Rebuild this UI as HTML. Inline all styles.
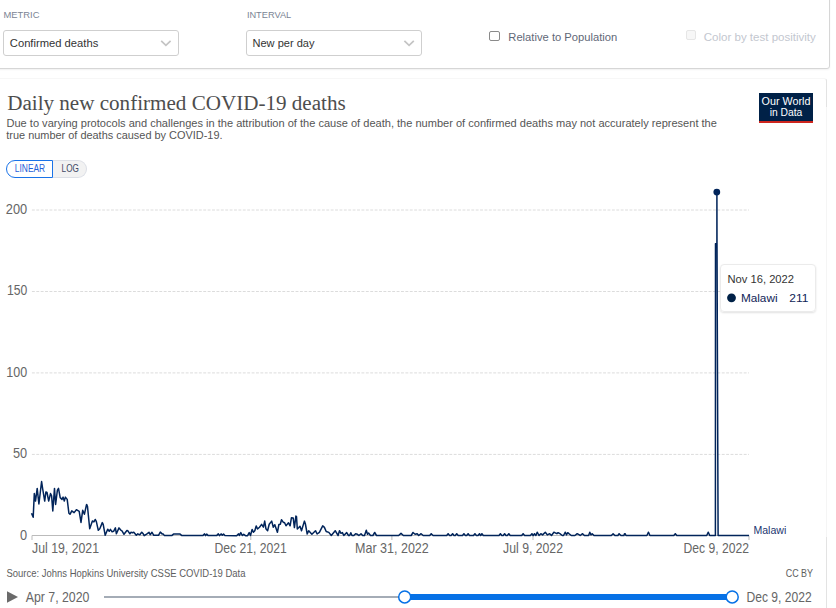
<!DOCTYPE html>
<html><head><meta charset="utf-8">
<style>
*{box-sizing:border-box;margin:0;padding:0}
html,body{width:836px;height:608px;overflow:hidden;background:#fff}
body{position:relative;font-family:"Liberation Sans",Arial,sans-serif;color:#333}
.abs{position:absolute;white-space:nowrap}
.panel1{position:absolute;left:-10px;top:-10px;width:840px;height:79px;border:1px solid #d6d6d6;border-radius:3px;box-shadow:0 1px 2px rgba(0,0,0,.06);background:#fff}
.panel2{position:absolute;left:-10px;top:78px;width:837px;height:560px;border:1px solid #e3e3e3;border-top-color:#f7f7f7;border-radius:3px;background:#fff}
.sel{position:absolute;top:30px;height:26px;border:1px solid #cfcfcf;border-radius:3px;background:#fff}
.cb{position:absolute;width:10.5px;height:10px;border:1.3px solid #8a8a8a;border-radius:2px;background:#fff}
svg text{white-space:pre}
</style></head><body>
<div class="panel1"></div>
<div class="sel" style="left:3.2px;width:175.5px"></div>
<div class="sel" style="left:246.4px;width:175.5px"></div>
<div class="cb" style="left:489.2px;top:30.5px"></div>
<div class="cb" style="left:685.5px;top:30.2px;border-color:#e6e6e6;background:#f7f7f7"></div>
<div class="panel2"></div>
<div class="abs" style="left:826px;top:107px;width:1px;height:430px;background:#f5f5f5"></div>
<div class="abs" style="left:759px;top:93px;width:54px;height:30px;background:#002147;border-bottom:2.5px solid #ce261e"></div>
<div class="abs" style="left:6px;top:160px;width:47px;height:17.5px;border:1.3px solid #1a73e8;border-radius:9px 0 0 9px;background:#fff"></div>
<div class="abs" style="left:52.6px;top:160px;width:34px;height:17.5px;border:1px solid #dcdfe6;border-left:none;border-radius:0 9px 9px 0;background:#f2f2f2"></div>
<div class="abs" style="left:720.2px;top:264.4px;width:95.5px;height:48px;background:rgba(255,255,255,.93);border:1px solid #ebebeb;border-radius:4px;box-shadow:0 1px 2px rgba(0,0,0,.12);z-index:2"></div>

<svg class="abs" style="left:0;top:0;z-index:3" width="836" height="608" viewBox="0 0 836 608">
<g fill="none" stroke="#c4c4c4" stroke-width="1.7">
<path d="M161.2 40.9 L165.9 45.4 L170.6 40.9"/>
<path d="M404.4 40.9 L409.1 45.4 L413.8 40.9"/>
</g>
</svg>

<svg class="abs" style="left:0;top:0;z-index:1" width="836" height="608" viewBox="0 0 836 608">
<g stroke="#dcdcdc" stroke-width="1" stroke-dasharray="2.9,1.494">
<line x1="31.9" y1="210" x2="749" y2="210"/>
<line x1="31.9" y1="291.5" x2="749" y2="291.5"/>
<line x1="31.9" y1="372.9" x2="749" y2="372.9"/>
<line x1="31.9" y1="454.4" x2="749" y2="454.4"/>
</g>
<line x1="32" y1="535.5" x2="749" y2="535.5" stroke="#bbb" stroke-width="1"/>
<g stroke="#bbb" stroke-width="1">
<line x1="32" y1="535.5" x2="32" y2="540"/>
<line x1="250.8" y1="535.5" x2="250.8" y2="540"/>
<line x1="391.9" y1="535.5" x2="391.9" y2="540"/>
<line x1="533" y1="535.5" x2="533" y2="540"/>
<line x1="749" y1="535.5" x2="749" y2="540"/>
</g>
<path d="M31.5,513.2 L33.2,517.2 L34.3,493.6 L35.5,501.1 L37.2,488.4 L38.9,504.0 L41.6,481.5 L42.7,489.0 L44.7,501.1 L45.9,491.9 L47.0,492.5 L48.7,501.1 L50.5,493.6 L51.6,495.9 L52.8,510.9 L54.5,488.4 L55.6,504.5 L57.4,490.1 L58.5,488.4 L60.2,497.6 L62.0,499.4 L63.1,497.1 L64.3,501.1 L65.4,497.1 L67.2,499.4 L68.9,513.2 L70.0,514.3 L71.8,510.9 L74.1,512.6 L76.4,509.7 L79.2,511.4 L81.0,522.4 L82.7,510.3 L84.4,514.3 L86.5,504.7 L86.7,504.5 L87.5,506.6 L89.7,528.8 L92.4,521.0 L93.9,521.9 L95.3,519.5 L96.3,521.4 L98.3,530.3 L99.8,528.8 L102.3,522.6 L103.2,524.4 L105.2,535.3 L107.7,529.3 L109.2,531.3 L110.4,529.3 L112.1,531.8 L113.6,531.3 L115.4,527.9 L116.4,533.8 L119.0,527.9 L121.0,530.3 L122.0,530.8 L124.0,534.3 L126.9,530.5 L127.9,530.8 L129.9,533.8 L130.9,532.3 L132.4,532.8 L133.8,532.3 L136.3,535.3 L137.8,533.8 L139.8,534.8 L141.7,532.3 L141.8,532.3 L143.2,533.8 L144.2,535.7 L146.6,534.1 L149.0,532.3 L150.2,534.7 L152.0,532.3 L153.8,535.3 L158.5,535.3 L160.3,532.1 L162.1,533.9 L163.3,534.1 L164.5,535.6 L171.7,535.6 L173.5,534.1 L180.1,534.1 L181.9,535.6 L202.8,535.6 L204.6,533.9 L205.6,535.6 L206.7,534.1 L208.2,535.6 L216.6,535.6 L218.3,533.9 L219.5,535.6 L221.1,533.9 L222.3,535.3 L223.5,534.1 L224.9,535.6 L236.5,535.7 L236.9,535.6 L237.9,534.4 L238.7,533.9 L239.4,535.5 L240.8,532.6 L242.3,535.5 L243.7,534.3 L245.5,535.7 L247.6,535.7 L249.2,532.6 L250.5,535.5 L252.1,529.4 L253.4,532.3 L254.8,530.8 L256.2,525.9 L257.5,529.0 L259.5,527.2 L261.6,524.4 L263.4,527.2 L264.7,521.1 L265.9,528.7 L267.6,530.7 L269.2,524.2 L271.7,521.1 L273.3,527.2 L274.8,524.7 L277.4,532.3 L278.9,524.5 L280.3,524.2 L281.5,519.7 L283.2,522.2 L284.6,522.8 L286.0,525.8 L288.5,522.8 L290.1,525.8 L291.4,517.8 L293.2,517.9 L294.4,527.6 L295.9,516.1 L296.5,516.5 L297.3,529.0 L298.6,527.8 L300.0,526.2 L301.5,530.7 L304.4,521.1 L305.4,524.0 L307.2,534.0 L308.7,530.7 L311.9,534.3 L315.5,530.7 L317.1,534.0 L319.4,532.3 L322.7,525.8 L324.4,527.4 L326.2,531.5 L328.8,532.4 L331.3,535.5 L335.2,530.7 L338.1,535.5 L339.5,530.7 L341.0,533.3 L342.4,532.6 L343.8,535.5 L346.7,532.6 L348.5,535.5 L349.6,535.5 L350.8,532.7 L352.0,535.5 L353.8,535.5 L355.6,533.7 L357.4,534.3 L358.9,535.5 L361.0,533.7 L362.7,535.5 L364.5,535.5 L366.3,530.3 L367.5,534.3 L368.7,533.1 L370.5,535.5 L372.9,535.5 L374.7,532.5 L376.5,535.5 L398.6,535.5 L401.0,533.4 L403.4,535.5 L411.2,535.5 L413.0,532.5 L415.1,534.3 L417.2,533.7 L418.7,535.5 L421.1,533.7 L423.2,535.5 L429.7,535.5 L431.2,533.7 L433.1,535.5 L446.7,535.5 L448.1,533.7 L449.6,535.5 L451.1,535.5 L452.6,533.7 L454.0,535.5 L455.3,535.5 L456.7,533.7 L458.2,535.5 L462.5,535.5 L463.9,533.7 L465.4,535.5 L466.7,535.5 L468.1,533.7 L469.5,535.5 L473.5,535.5 L474.9,533.7 L476.4,535.5 L478.0,535.5 L479.5,533.7 L480.4,535.5 L480.9,535.5 L481.9,533.7 L483.3,535.5 L499.0,535.5 L500.4,533.7 L501.8,535.5 L503.2,535.5 L504.6,533.7 L506.0,535.5 L507.3,535.5 L508.8,533.7 L510.2,535.5 L521.7,535.5 L523.1,533.7 L524.6,535.5 L530.4,535.5 L531.9,533.7 L533.1,535.5 L533.3,535.5 L534.5,533.7 L535.9,535.5 L537.2,532.2 L539.0,535.5 L540.8,533.7 L542.6,534.9 L545.3,532.2 L547.3,534.9 L549.7,533.7 L551.5,535.5 L553.9,532.2 L555.7,533.1 L556.9,533.7 L558.1,532.7 L559.9,533.7 L562.3,535.5 L563.5,535.5 L565.3,532.2 L566.5,534.9 L567.7,532.7 L568.9,533.7 L571.3,535.5 L574.9,535.5 L577.2,533.7 L579.0,534.6 L580.2,535.5 L582.6,533.7 L584.4,535.5 L588.6,535.5 L589.8,532.2 L591.0,534.9 L592.2,533.7 L594.0,535.5 L611.3,535.5 L613.1,533.7 L614.9,535.5 L617.9,535.5 L619.1,533.7 L620.9,535.5 L623.0,535.5 L623.9,535.5 L624.5,533.7 L625.1,533.7 L626.0,535.5 L626.9,535.5 L646.9,535.5 L648.5,532.2 L649.9,535.5 L673.8,535.5 L675.3,533.7 L676.8,535.5 L706.7,535.5 L708.3,532.2 L709.7,535.5 L715.4,535.5 L715.5,243.8 L716.9,243.4 L716.9,192.1 L717.0,243.4 L718.1,535.5 L749.0,535.5" fill="none" stroke="#01245a" stroke-width="1.5" stroke-linejoin="round"/>
<circle cx="716.8" cy="192.1" r="3.4" fill="#01245a"/>
</svg>

<svg class="abs" style="left:0;top:0;z-index:4" width="836" height="608" viewBox="0 0 836 608">
<circle cx="731.5" cy="297.8" r="4.4" fill="#002147"/>
<path d="M7 591.2 L18 597 L7 602.8 Z" fill="#6a6a6a"/>
<rect x="104" y="596" width="300" height="2" fill="#a4acb6"/>
<rect x="404" y="594" width="328" height="6" fill="#0671e6"/>
<circle cx="404.7" cy="596.9" r="6" fill="#fff" stroke="#0671e6" stroke-width="1.5"/>
<circle cx="732.2" cy="596.9" r="6" fill="#fff" stroke="#0671e6" stroke-width="1.5"/>
<text x="3.5" y="17.9" font-size="9.9" fill="#7a8494" text-anchor="start" font-family='"Liberation Sans", Arial, sans-serif' textLength="36.0" lengthAdjust="spacingAndGlyphs">METRIC</text>
<text x="246.9" y="17.9" font-size="9.9" fill="#7a8494" text-anchor="start" font-family='"Liberation Sans", Arial, sans-serif' textLength="44.3" lengthAdjust="spacingAndGlyphs">INTERVAL</text>
<text x="9.8" y="46.9" font-size="11.4" fill="#333333" text-anchor="start" font-family='"Liberation Sans", Arial, sans-serif' textLength="88.5" lengthAdjust="spacingAndGlyphs">Confirmed deaths</text>
<text x="252.5" y="46.9" font-size="11.4" fill="#333333" text-anchor="start" font-family='"Liberation Sans", Arial, sans-serif' textLength="62.0" lengthAdjust="spacingAndGlyphs">New per day</text>
<text x="508.3" y="40.7" font-size="11.2" fill="#5f6877" text-anchor="start" font-family='"Liberation Sans", Arial, sans-serif' textLength="109.0" lengthAdjust="spacingAndGlyphs">Relative to Population</text>
<text x="703.8" y="40.8" font-size="11.2" fill="#c3c7cf" text-anchor="start" font-family='"Liberation Sans", Arial, sans-serif' textLength="112.0" lengthAdjust="spacingAndGlyphs">Color by test positivity</text>
<text x="7.2" y="109.5" font-size="21.1" fill="#4d4d4d" text-anchor="start" font-family='"Liberation Serif", serif' textLength="338.5" lengthAdjust="spacingAndGlyphs">Daily new confirmed COVID-19 deaths</text>
<text x="6.5" y="127.0" font-size="11.0" fill="#555555" text-anchor="start" font-family='"Liberation Sans", Arial, sans-serif' textLength="710.4" lengthAdjust="spacingAndGlyphs">Due to varying protocols and challenges in the attribution of the cause of death, the number of confirmed deaths may not accurately represent the</text>
<text x="6.3" y="139.3" font-size="11.0" fill="#555555" text-anchor="start" font-family='"Liberation Sans", Arial, sans-serif' textLength="216.2" lengthAdjust="spacingAndGlyphs">true number of deaths caused by COVID-19.</text>
<text x="786.0" y="105.3" font-size="11.2" fill="#ffffff" text-anchor="middle" font-family='"Liberation Sans", Arial, sans-serif' textLength="48.8" lengthAdjust="spacingAndGlyphs">Our World</text>
<text x="786.0" y="116.2" font-size="11.2" fill="#ffffff" text-anchor="middle" font-family='"Liberation Sans", Arial, sans-serif' textLength="32.6" lengthAdjust="spacingAndGlyphs">in Data</text>
<text x="14.8" y="171.8" font-size="10.2" fill="#1f5fd8" text-anchor="start" font-family='"Liberation Sans", Arial, sans-serif' textLength="30.4" lengthAdjust="spacingAndGlyphs">LINEAR</text>
<text x="61.6" y="171.8" font-size="10.2" fill="#3f4a66" text-anchor="start" font-family='"Liberation Sans", Arial, sans-serif' textLength="17.3" lengthAdjust="spacingAndGlyphs">LOG</text>
<text x="27.2" y="213.9" font-size="14.2" fill="#666666" text-anchor="end" font-family='"Liberation Sans", Arial, sans-serif' textLength="21.4" lengthAdjust="spacingAndGlyphs">200</text>
<text x="27.2" y="295.2" font-size="14.2" fill="#666666" text-anchor="end" font-family='"Liberation Sans", Arial, sans-serif' textLength="20.3" lengthAdjust="spacingAndGlyphs">150</text>
<text x="27.2" y="376.9" font-size="14.2" fill="#666666" text-anchor="end" font-family='"Liberation Sans", Arial, sans-serif' textLength="20.9" lengthAdjust="spacingAndGlyphs">100</text>
<text x="27.2" y="458.0" font-size="14.2" fill="#666666" text-anchor="end" font-family='"Liberation Sans", Arial, sans-serif' textLength="14.2" lengthAdjust="spacingAndGlyphs">50</text>
<text x="27.2" y="539.9" font-size="14.2" fill="#666666" text-anchor="end" font-family='"Liberation Sans", Arial, sans-serif' textLength="7.1" lengthAdjust="spacingAndGlyphs">0</text>
<text x="32.0" y="552.6" font-size="14.8" fill="#666666" text-anchor="start" font-family='"Liberation Sans", Arial, sans-serif' textLength="67.0" lengthAdjust="spacingAndGlyphs">Jul 19, 2021</text>
<text x="214.4" y="552.6" font-size="14.8" fill="#666666" text-anchor="start" font-family='"Liberation Sans", Arial, sans-serif' textLength="72.3" lengthAdjust="spacingAndGlyphs">Dec 21, 2021</text>
<text x="355.0" y="552.6" font-size="14.8" fill="#666666" text-anchor="start" font-family='"Liberation Sans", Arial, sans-serif' textLength="73.8" lengthAdjust="spacingAndGlyphs">Mar 31, 2022</text>
<text x="503.1" y="552.6" font-size="14.8" fill="#666666" text-anchor="start" font-family='"Liberation Sans", Arial, sans-serif' textLength="59.9" lengthAdjust="spacingAndGlyphs">Jul 9, 2022</text>
<text x="749.0" y="552.6" font-size="14.8" fill="#666666" text-anchor="end" font-family='"Liberation Sans", Arial, sans-serif' textLength="65.5" lengthAdjust="spacingAndGlyphs">Dec 9, 2022</text>
<text x="753.4" y="533.8" font-size="11.3" fill="#1a3570" text-anchor="start" font-family='"Liberation Sans", Arial, sans-serif' textLength="32.9" lengthAdjust="spacingAndGlyphs">Malawi</text>
<text x="727.5" y="283.0" font-size="11.3" fill="#333333" text-anchor="start" font-family='"Liberation Sans", Arial, sans-serif' textLength="66.5" lengthAdjust="spacingAndGlyphs">Nov 16, 2022</text>
<text x="740.9" y="301.7" font-size="11.6" fill="#0f2457" text-anchor="start" font-family='"Liberation Sans", Arial, sans-serif' textLength="36.6" lengthAdjust="spacingAndGlyphs">Malawi</text>
<text x="789.3" y="301.7" font-size="11.6" fill="#0f2457" text-anchor="start" font-family='"Liberation Sans", Arial, sans-serif' textLength="19.1" lengthAdjust="spacingAndGlyphs">211</text>
<text x="6.5" y="576.8" font-size="10.2" fill="#5e5e5e" text-anchor="start" font-family='"Liberation Sans", Arial, sans-serif' textLength="239.0" lengthAdjust="spacingAndGlyphs">Source: Johns Hopkins University CSSE COVID-19 Data</text>
<text x="785.7" y="576.9" font-size="10.2" fill="#5e5e5e" text-anchor="start" font-family='"Liberation Sans", Arial, sans-serif' textLength="27.3" lengthAdjust="spacingAndGlyphs">CC BY</text>
<text x="25.7" y="602.0" font-size="14.2" fill="#666666" text-anchor="start" font-family='"Liberation Sans", Arial, sans-serif' textLength="63.7" lengthAdjust="spacingAndGlyphs">Apr 7, 2020</text>
<text x="746.5" y="601.6" font-size="14.2" fill="#666666" text-anchor="start" font-family='"Liberation Sans", Arial, sans-serif' textLength="65.2" lengthAdjust="spacingAndGlyphs">Dec 9, 2022</text>
</svg>
</body></html>
